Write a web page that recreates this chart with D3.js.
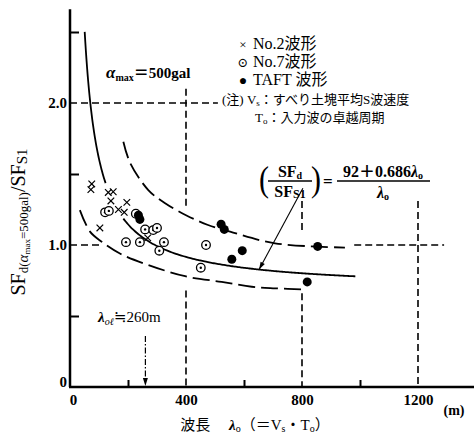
<!DOCTYPE html>
<html>
<head>
<meta charset="utf-8" />
<title>SF ratio vs wavelength</title>
<script src="https://cdn.jsdelivr.net/npm/d3@7/dist/d3.min.js"></script>
<style>
    body { margin: 0; background: #fff; }
    svg text { font-family: "Liberation Serif", "DejaVu Serif", "Noto Sans CJK JP", serif; fill: #000; }
</style>
</head>
<body>
<svg id="chart" width="474" height="435"></svg>
<script>
// No.2 wave (x marks)
var crossL = [75, 72, 132, 149, 141, 196, 167, 187, 103, 268];
var crossV = [1.43, 1.39, 1.37, 1.375, 1.31, 1.30, 1.25, 1.23, 1.12, 1.05];
// No.7 wave (dotted circles)
var circL = [121, 134, 227, 259, 287, 300, 193, 241, 324, 308, 469, 451];
var circV = [1.23, 1.24, 1.22, 1.11, 1.105, 1.12, 1.02, 1.02, 1.02, 0.96, 1.0, 0.84];
// TAFT wave (filled)
var dotL = [236, 241, 521, 532, 594, 558, 854, 818];
var dotV = [1.21, 1.18, 1.146, 1.11, 0.96, 0.90, 0.99, 0.74];
// upper / lower dashed envelopes
var upperL = [184, 207, 270, 328, 400, 476, 552, 707, 948];
var upperV = [1.727, 1.58, 1.387, 1.294, 1.21, 1.141, 1.094, 1.012, 0.982];
var lowerL = [34, 69, 109, 172, 269, 397, 523, 627, 707, 810];
var lowerV = [1.246, 1.094, 1.023, 0.94, 0.86, 0.78, 0.74, 0.706, 0.695, 0.687];
// regression  SFd/SFs1 = (92 + 0.686 λo) / λo
var coefA = 92, coefB = 0.686;
var xTickMajor = [0, 400, 800, 1200];
var xTickMinor = [200, 600, 1000];
var yTickMajor = [0, 1.0, 2.0];
var yTickMinor = [0.5, 1.5, 2.5];

var svg = d3.select('#chart');
var x = d3.scaleLinear().domain([0, 1400]).range([70, 476]);
var y = d3.scaleLinear().domain([0, 2.5]).range([387, 32]);

// dashed reference grid
var grid = svg.append('g').attr('stroke', '#000').attr('stroke-width', 1.6)
    .attr('stroke-dasharray', '7,4').attr('fill', 'none');
grid.append('line').attr('x1', x(0)).attr('x2', x(510)).attr('y1', y(2)).attr('y2', y(2));
grid.append('line').attr('x1', x(0)).attr('x2', x(100)).attr('y1', y(1)).attr('y2', y(1));
grid.append('line').attr('x1', x(980)).attr('x2', x(1290)).attr('y1', y(1)).attr('y2', y(1));
grid.append('line').attr('x1', x(400)).attr('x2', x(400)).attr('y1', y(2.1)).attr('y2', y(1.27));
grid.append('line').attr('x1', x(400)).attr('x2', x(400)).attr('y1', y(0.68)).attr('y2', y(0));
grid.append('line').attr('x1', x(800)).attr('x2', x(800)).attr('y1', y(1.31)).attr('y2', y(1.08));
grid.append('line').attr('x1', x(800)).attr('x2', x(800)).attr('y1', y(0.66)).attr('y2', y(0));
grid.append('line').attr('x1', x(1200)).attr('x2', x(1200)).attr('y1', y(1.31)).attr('y2', y(0));

// curves
var line = d3.line().x(function (d) { return x(d[0]); }).y(function (d) { return y(d[1]); })
    .curve(d3.curveCatmullRom);
function fit(l) { return coefB + coefA / l; }
var seg1 = d3.range(50.7, 124, 2).map(function (l) { return [l, fit(l)]; });
var seg2 = d3.range(184, 986, 8).map(function (l) { return [l, fit(l)]; });
svg.append('path').datum(seg1).attr('d', line).attr('fill', 'none').attr('stroke', '#000').attr('stroke-width', 1.8);
svg.append('path').datum(seg2).attr('d', line).attr('fill', 'none').attr('stroke', '#000').attr('stroke-width', 1.8);
svg.append('path').datum(upperL.map(function (l, i) { return [l, upperV[i]]; })).attr('d', line)
    .attr('fill', 'none').attr('stroke', '#000').attr('stroke-width', 1.8).attr('stroke-dasharray', '17,6');
svg.append('path').datum(lowerL.map(function (l, i) { return [l, lowerV[i]]; })).attr('d', line)
    .attr('fill', 'none').attr('stroke', '#000').attr('stroke-width', 1.8).attr('stroke-dasharray', '17,6');

// axes
svg.append('line').attr('x1', x(0)).attr('x2', x(0)).attr('y1', y(2.66)).attr('y2', y(0))
    .attr('stroke', '#000').attr('stroke-width', 2.5);
svg.append('line').attr('x1', x(0) - 1).attr('x2', 474).attr('y1', y(0)).attr('y2', y(0))
    .attr('stroke', '#000').attr('stroke-width', 2.5);

var yMinor = svg.append('g').attr('transform', 'translate(' + x(0) + ',0)')
    .call(d3.axisRight(y).tickValues(yTickMinor).tickSize(9).tickFormat(''));
var yMajor = svg.append('g').attr('transform', 'translate(' + x(0) + ',0)')
    .call(d3.axisLeft(y).tickValues(yTickMajor).tickSize(0).tickPadding(3)
        .tickFormat(function (d) { return d === 0 ? '0' : d.toFixed(1); }));
var xMinor = svg.append('g').attr('transform', 'translate(0,' + y(0) + ')')
    .call(d3.axisTop(x).tickValues(xTickMinor).tickSize(7).tickFormat(''));
var xMajor = svg.append('g').attr('transform', 'translate(0,' + y(0) + ')')
    .call(d3.axisBottom(x).tickValues(xTickMajor).tickSize(0).tickPadding(7).tickFormat(d3.format('d')));
[yMinor, yMajor, xMinor, xMajor].forEach(function (g) {
    g.select('.domain').remove();
    g.selectAll('line').attr('stroke', '#000').attr('stroke-width', 2);
    g.selectAll('text').style('font-family', '"Liberation Serif", serif')
        .style('font-size', '15px').style('font-weight', 'bold');
});
yMajor.selectAll('.tick').filter(function (d) { return d === 0; }).select('text').attr('dy', '-0.05em');
xMajor.selectAll('.tick').filter(function (d) { return d === 0; }).select('text').attr('dx', '0.2em');

// markers
var mk = svg.append('g');
crossL.forEach(function (l, i) {
    var cx = x(l), cy = y(crossV[i]), s = 3.3;
    mk.append('path').attr('d', 'M' + (cx - s) + ',' + (cy - s) + 'L' + (cx + s) + ',' + (cy + s) +
        'M' + (cx - s) + ',' + (cy + s) + 'L' + (cx + s) + ',' + (cy - s))
        .attr('stroke', '#000').attr('stroke-width', 1.2);
});
circL.forEach(function (l, i) {
    mk.append('circle').attr('cx', x(l)).attr('cy', y(circV[i])).attr('r', 4.3)
        .attr('fill', '#fff').attr('stroke', '#000').attr('stroke-width', 1.3);
    mk.append('circle').attr('cx', x(l)).attr('cy', y(circV[i])).attr('r', 1.2).attr('fill', '#000');
});
dotL.forEach(function (l, i) {
    mk.append('circle').attr('cx', x(l)).attr('cy', y(dotV[i])).attr('r', 4.5).attr('fill', '#000');
});

// λol = 260 m dash-dot arrow
svg.append('line').attr('x1', x(260)).attr('x2', x(260)).attr('y1', y(0.36)).attr('y2', y(0) - 6)
    .attr('stroke', '#000').attr('stroke-width', 1.2).attr('stroke-dasharray', '6,2,1.5,2');
svg.append('path').attr('d', 'M' + (x(260) - 2.5) + ',' + (y(0) - 9) + 'L' + (x(260) + 2.5) + ',' + (y(0) - 9) +
    'L' + x(260) + ',' + (y(0) - 1) + 'Z').attr('fill', '#000');
var lt = svg.append('text').attr('x', 98).attr('y', 322).style('font-size', '15px');
lt.append('tspan').text('λ').style('font-style', 'italic').style('font-weight', 'bold');
lt.append('tspan').text('oℓ').attr('dy', 3).style('font-size', '10px').style('font-style', 'italic');
lt.append('tspan').text('≒260m').attr('dy', -3);

// formula leader arrow to solid curve
var ax0 = x(803), ay0 = y(1.40), ax1 = x(652), ay1 = y(fit(652));
svg.append('line').attr('x1', ax0).attr('y1', ay0).attr('x2', ax1).attr('y2', ay1)
    .attr('stroke', '#000').attr('stroke-width', 1.1);
var ang = Math.atan2(ay1 - ay0, ax1 - ax0);
svg.append('path').attr('d', 'M' + ax1 + ',' + ay1 +
    'L' + (ax1 - 8 * Math.cos(ang - 0.3)) + ',' + (ay1 - 8 * Math.sin(ang - 0.3)) +
    'L' + (ax1 - 8 * Math.cos(ang + 0.3)) + ',' + (ay1 - 8 * Math.sin(ang + 0.3)) + 'Z').attr('fill', '#000');

// α max label
var am = svg.append('text').attr('x', 106).attr('y', 78).style('font-size', '15px').style('font-weight', 'bold');
am.append('tspan').text('α').style('font-style', 'italic').style('font-size', '17px');
am.append('tspan').text('max').attr('dy', 3).style('font-size', '10px');
am.append('tspan').text('＝500gal').attr('dy', -3);

// legend
var lg = svg.append('g');
var legRows = [['×', 'No.2波形', 49], ['⊙', 'No.7波形', 67], ['●', 'TAFT 波形', 85]];
legRows.forEach(function (r) {
    lg.append('text').attr('x', 243).attr('y', r[2]).style('font-size', r[0] === '●' ? '14px' : '13px')
        .attr('text-anchor', 'middle').text(r[0]);
    lg.append('text').attr('x', 253).attr('y', r[2]).style('font-size', '16px').text(r[1]);
});
var n1 = lg.append('text').attr('x', 222).attr('y', 104).style('font-size', '13px');
n1.append('tspan').text('(注) V');
n1.append('tspan').text('s').attr('dy', 2).style('font-size', '9px');
n1.append('tspan').text('：すべり土塊平均S波速度').attr('dy', -2);
var n2 = lg.append('text').attr('x', 255).attr('y', 122).style('font-size', '13px');
n2.append('tspan').text('T');
n2.append('tspan').text('o').attr('dy', 2).style('font-size', '9px');
n2.append('tspan').text('：入力波の卓越周期').attr('dy', -2);

// formula
var fm = svg.append('g').style('font-weight', 'bold');
fm.append('text').attr('x', 259).attr('y', 190).style('font-size', '30px').style('font-weight', 'normal')
    .attr('transform', 'translate(0,-33) scale(1,1.18)').text('(');
fm.append('text').attr('x', 311).attr('y', 190).style('font-size', '30px').style('font-weight', 'normal')
    .attr('transform', 'translate(0,-33) scale(1,1.18)').text(')');
var fn = fm.append('text').attr('x', 290).attr('y', 177).attr('text-anchor', 'middle').style('font-size', '16px');
fn.append('tspan').text('SF');
fn.append('tspan').text('d').attr('dy', 2).style('font-size', '10px');
fm.append('line').attr('x1', 268).attr('x2', 312).attr('y1', 181).attr('y2', 181).attr('stroke', '#000').attr('stroke-width', 1.3);
var fd = fm.append('text').attr('x', 290).attr('y', 197).attr('text-anchor', 'middle').style('font-size', '16px');
fd.append('tspan').text('SF');
fd.append('tspan').text('S1').attr('dy', 1).style('font-size', '12px');
fm.append('text').attr('x', 323).attr('y', 187).style('font-size', '17px').text('=');
var rn = fm.append('text').attr('x', 383).attr('y', 177).attr('text-anchor', 'middle').style('font-size', '16px');
rn.append('tspan').text('92＋0.686');
rn.append('tspan').text('λ').style('font-style', 'italic');
rn.append('tspan').text('o').attr('dy', 2).style('font-size', '10px');
fm.append('line').attr('x1', 337).attr('x2', 430).attr('y1', 181).attr('y2', 181).attr('stroke', '#000').attr('stroke-width', 1.3);
var rd = fm.append('text').attr('x', 383).attr('y', 198).attr('text-anchor', 'middle').style('font-size', '16px');
rd.append('tspan').text('λ').style('font-style', 'italic');
rd.append('tspan').text('o').attr('dy', 2).style('font-size', '10px');

// axis titles
var xt = svg.append('text').attr('x', 255).attr('y', 430).attr('text-anchor', 'middle').style('font-size', '15px');
xt.append('tspan').text('波長　 ');
xt.append('tspan').text('λ').style('font-style', 'italic').style('font-weight', 'bold');
xt.append('tspan').text('o').attr('dy', 2).style('font-size', '10px');
xt.append('tspan').text('（＝V').attr('dy', -2);
xt.append('tspan').text('s').attr('dy', 2).style('font-size', '10px');
xt.append('tspan').text('・T').attr('dy', -2);
xt.append('tspan').text('o').attr('dy', 2).style('font-size', '10px');
xt.append('tspan').text('）').attr('dy', -2);
svg.append('text').attr('x', 454).attr('y', 415).attr('text-anchor', 'middle')
    .style('font-size', '14px').style('font-weight', 'bold').text('(m)');

var yt = svg.append('text').attr('transform', 'translate(25,222) rotate(-90)').attr('text-anchor', 'middle')
    .style('font-size', '20px');
yt.append('tspan').text('SF');
yt.append('tspan').text('d(').attr('dy', 3).style('font-size', '13px');
yt.append('tspan').text('α').style('font-size', '15px').style('font-style', 'italic');
yt.append('tspan').text('max').attr('dy', 2).style('font-size', '9px');
yt.append('tspan').text('=500gal)').attr('dy', -2).style('font-size', '13px');
yt.append('tspan').text('/SF').attr('dy', -3);
yt.append('tspan').text('S1').attr('dy', 2).style('font-size', '15px');
</script>
</body>
</html>
